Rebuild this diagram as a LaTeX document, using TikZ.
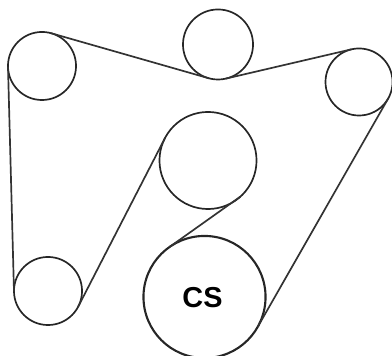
\documentclass[tikz,border=0pt]{standalone}
\usepackage{fontspec}
\setsansfont{Liberation Sans}
\tikzset{
	pulley/.style={draw=black!85,circle,line width=0.48pt,inner sep=0pt,outer sep=0pt},
	belt/.style={draw=black!80,line width=0.48pt}
}
\begin{document}
\begin{tikzpicture}[x=0.01cm,y=-0.01cm]
	\useasboundingbox (0,0) rectangle (392,356);
	\node [pulley,minimum size=0.68cm] (idlerleft) at (42,66) {};		%top left
	\node [pulley,minimum size=0.70cm] (idlertop) at (218,44.5) {};		%top
	\node [pulley,minimum size=0.67cm] (idlerright) at (359,82) {};		%right
	\node [pulley,minimum size=0.97cm] (pump) at (208,160.5) {};		%middle
	\node [pulley,minimum size=0.68cm] (idlerlow) at (48,291) {};		%bottom left
	\node [pulley,line width=0.6pt,minimum size=1.22cm] (crank) at (204.5,297) {};
	\node [font=\sffamily\bfseries\fontsize{8.2pt}{9pt}\selectfont] (cranklabel) at (202.5,297.5) {CS};
	\draw [belt] (idlerleft.75) -- (idlertop.255);		%top left to top
	\draw [belt] (idlertop.283) -- (idlerright.103);	%top to right
	\draw [belt] (idlerright.-29.5) -- (crank.-29.5);	%right to crank
	\draw [belt] (crank.125) -- (pump.312);				%crank to middle
	\draw [belt] (pump.152) -- (idlerlow.332);			%middle to bottom left
	\draw [belt] (idlerlow.181.4) -- (idlerleft.181.4);	%bottom left to top left
\end{tikzpicture}
\end{document}
